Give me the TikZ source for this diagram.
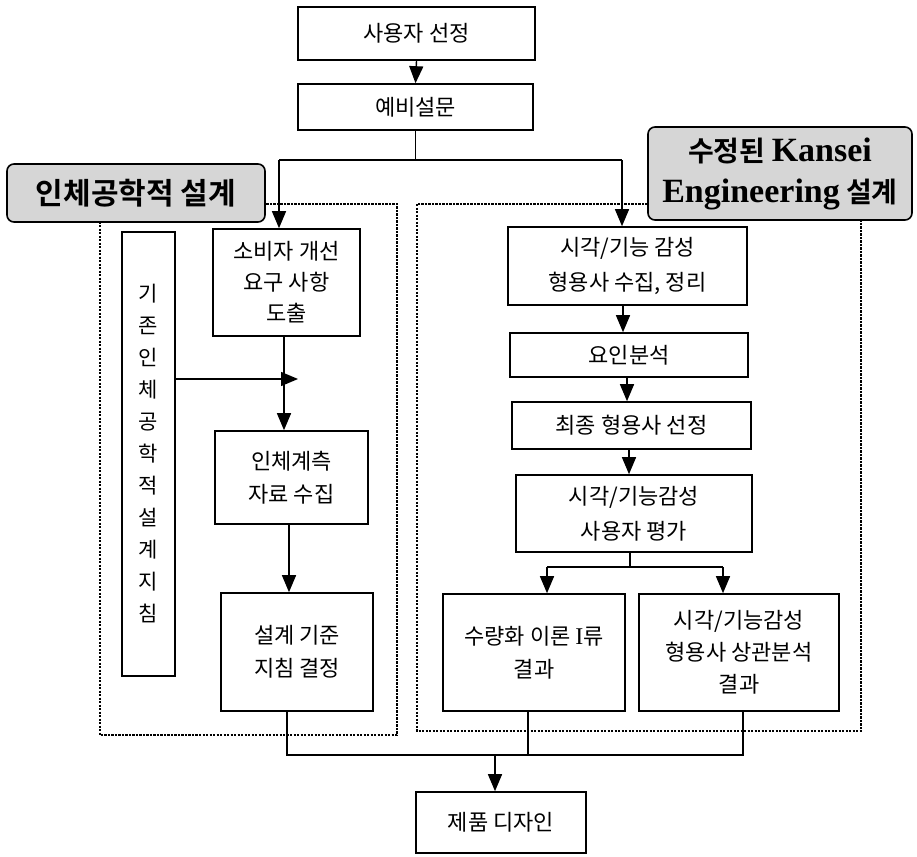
\documentclass[tikz,border=0pt]{standalone}
\usepackage{fontspec}
\setmainfont{Noto Sans CJK KR}[BoldFont={Noto Sans CJK KR Bold}]
\newfontfamily\lat{Liberation Serif}
\usetikzlibrary{arrows.meta}
\begin{document}
\begin{tikzpicture}[x=1pt,y=-1pt,
 box/.style={draw, line width=1.6pt, align=center, inner sep=0pt, font=\fontsize{22}{33}\selectfont},
 lab/.style={draw, line width=1.6pt, rounded corners=7pt, fill=gray!32, align=center, inner sep=0pt},
 conn/.style={line width=1.4pt},
 arr/.style={conn, -{Triangle[length=17pt,width=14pt]}},
 region/.style={line width=1.3pt, dash pattern=on 2.2pt off 1.3pt},
]
\useasboundingbox (0,0) rectangle (917,856);
% dashed regions
\draw[region] (100,204) rectangle (397,735);
\draw[region] (417,204) rectangle (861,731);
% boxes
\node[box, minimum width=237pt, minimum height=53pt] (sel) at (416.5,33.5) {사용자 선정};
\node[box, minimum width=235pt, minimum height=46pt] (pre) at (415.5,107) {예비설문};
\node[box, minimum width=147pt, minimum height=107pt, font=\fontsize{22}{31}\selectfont] (cons) at (286.5,282.5) {소비자 개선\\요구 사항\\도출};
\node[box, minimum width=153pt, minimum height=93pt] (anth) at (291.5,477.5) {인체계측\\자료 수집};
\node[box, minimum width=152pt, minimum height=118pt] (crit) at (297,652) {설계 기준\\지침 결정};
\node[box, minimum width=53pt, minimum height=444pt, font=\fontsize{21}{32}\selectfont] (guide) at (148.5,454) {기\\존\\인\\체\\공\\학\\적\\설\\계\\지\\침};
\node[box, minimum width=239pt, minimum height=78pt, font=\fontsize{22}{35}\selectfont] (adj) at (627.5,266) {시각/기능 감성\\형용사 수집, 정리};
\node[box, minimum width=238pt, minimum height=44pt] (fac) at (629,355) {요인분석};
\node[box, minimum width=239pt, minimum height=47pt] (fin) at (631.5,425.5) {최종 형용사 선정};
\node[box, minimum width=236pt, minimum height=77pt, font=\fontsize{22}{35}\selectfont] (eval) at (634,513.5) {시각/기능감성\\사용자 평가};
\node[box, minimum width=182pt, minimum height=117pt] (qt) at (534,652.5) {수량화 이론 {\lat\fontsize{24}{33}\selectfont I}류\\결과};
\node[box, minimum width=200pt, minimum height=117pt, font=\fontsize{22}{32}\selectfont] (corr) at (739,652.5) {시각/기능감성\\형용사 상관분석\\결과};
\node[box, minimum width=170pt, minimum height=61pt] (prod) at (501,822.5) {제품 디자인};
% labels
\node[lab, minimum width=258pt, minimum height=58pt, font=\fontsize{30}{32}\bfseries] (labL) at (136,193) {인체공학적 설계};
\node[lab, minimum width=264pt, minimum height=93pt, font=\fontsize{28}{41}\bfseries] (labR) at (780,173.5) {수정된 {\lat\fontsize{34}{41}\selectfont Kansei}\\{\lat\fontsize{34}{41}\selectfont Engineering} 설계};
% coordinates
\coordinate (split) at (415.5,160);
\coordinate (splitL) at (279,160);
\coordinate (splitR) at (622,160);
\coordinate (gt) at (298,379);
\coordinate (cm) at (284,0);
\coordinate (am) at (289,0);
\coordinate (es) at (630,567);
\coordinate (esL) at (547,567);
\coordinate (esR) at (723,567);
\coordinate (mL) at (287,755);
\coordinate (mR) at (743,755);
\coordinate (qm) at (528,755);
\coordinate (mC) at (495,755);
% connectors
\draw[arr] (sel.south) -- (pre.north);
\draw[conn] (pre.south) -- (split);
\draw[conn] (splitL) -- (splitR);
\draw[arr] (splitL) -- (splitL |- cons.north);
\draw[arr] (splitR) -- (splitR |- adj.north);
\draw[arr] (cons.south -| cm) -- (anth.north -| cm);
\draw[arr] (guide.east |- gt) -- (gt);
\draw[arr] (anth.south -| am) -- (crit.north -| am);
\draw[arr] (adj.south -| 623,0) -- (fac.north -| 623,0);
\draw[arr] (fac.south -| 627,0) -- (fin.north -| 627,0);
\draw[arr] (fin.south -| 629,0) -- (eval.north -| 629,0);
\draw[conn] (eval.south -| es) -- (es);
\draw[conn] (esL) -- (esR);
\draw[arr] (esL) -- (esL |- qt.north);
\draw[arr] (esR) -- (esR |- corr.north);
\draw[conn] (crit.south -| mL) -- (mL) -- (mR) -- (corr.south -| mR);
\draw[conn] (qt.south -| qm) -- (qm);
\draw[arr] (mC) -- (mC |- prod.north);
\end{tikzpicture}
\end{document}
